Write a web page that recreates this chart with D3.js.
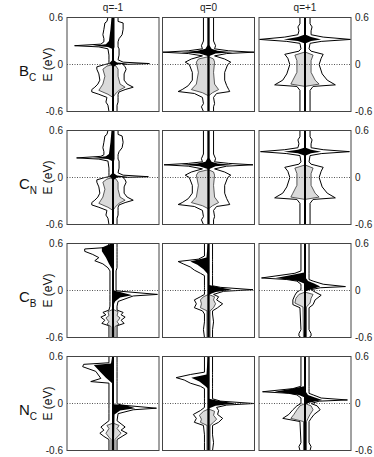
<!DOCTYPE html>
<html><head><meta charset="utf-8">
<script src="https://cdn.jsdelivr.net/npm/d3@7"></script>
<style>html,body{margin:0;padding:0;background:#fff;}svg{display:block;}</style>
</head><body>
<svg id="c" width="374" height="457"></svg>
<script>
// ---- data: energies (eV) and DOS (arb. units) as [E, spinUp, spinDown] ----
const charges = ["q=-1", "q=0", "q=+1"];
const defects = [["B","C"], ["C","N"], ["C","B"], ["N","C"]];
const energyTicks = [0.6, 0, -0.6];
const tickLabels = ["0.6", "0", "-0.6"];

// B_C
const BC_total = [
 [[0.60,5,5],[0.55,5,6],[0.53,10,8],[0.45,10,9],[0.38,9,10],[0.33,6,9],[0.29,5,9],[0.26,5,12],[0.24,5,38],[0.225,5,14],[0.20,6,5],[0.12,6,4],[0.06,5,4],[0.03,10,4],[0.012,36,4],[0.0,10,8],[-0.03,12,16],[-0.06,13,16],[-0.12,11,14],[-0.20,11,13],[-0.25,14,15],[-0.29,20,18],[-0.32,12,21],[-0.35,6,21],[-0.38,5,14],[-0.42,5,6],[-0.48,5,7],[-0.52,4,5],[-0.60,4,4]],
 [[0.60,5,5],[0.30,5,5],[0.24,7,7],[0.20,6,6],[0.175,20,20],[0.157,45,45],[0.14,18,20],[0.11,6,6],[0.07,16,17],[0.03,22,23],[0.0,19,19],[-0.10,16,16],[-0.20,16,16],[-0.27,18,20],[-0.32,20,26],[-0.345,21,30],[-0.37,8,14],[-0.42,5,6],[-0.50,6,5],[-0.54,5,7],[-0.60,5,5]],
 [[0.60,5,5],[0.52,5,5],[0.48,7,7],[0.43,6,6],[0.38,6,7],[0.35,18,20],[0.32,45,45],[0.295,16,18],[0.27,5,5],[0.20,4,4],[0.17,6,6],[0.13,18,20],[0.08,16,17],[0.0,14,15],[-0.12,17,18],[-0.20,22,22],[-0.26,30,30],[-0.28,8,8],[-0.33,5,5],[-0.60,5,5]]
];
const BC_defect = [
 [[0.60,1.5,1.5],[0.45,1.5,2.5],[0.30,1.5,4],[0.26,1.5,7],[0.24,1.5,20],[0.225,1.5,5],[0.20,1,1],[0.05,1,1],[0.025,4,3],[0.012,15,4],[0.0,4,2],[-0.03,0.8,0.8],[-0.60,0.8,0.8]],
 [[0.60,0.8,0.8],[0.25,0.8,0.8],[0.20,3,3],[0.175,9,11],[0.157,24,27],[0.14,7,9],[0.11,0.8,0.8],[-0.60,0.8,0.8]],
 [[0.60,0.8,0.8],[0.38,0.8,0.8],[0.35,6,7],[0.32,16,21],[0.30,6,7],[0.27,0.8,0.8],[-0.60,0.8,0.8]]
];
const BC_host = [
 [[0.0,0,0],[-0.02,3,6],[-0.06,5,10],[-0.15,5,8],[-0.25,7,10],[-0.29,12,12],[-0.33,6,14],[-0.38,2,5],[-0.42,0,0]],
 [[0.10,0,0],[0.07,5,10],[0.03,6,12],[-0.10,5,10],[-0.25,6,12],[-0.32,10,17],[-0.36,4,6],[-0.40,0,0]],
 [[0.16,0,0],[0.12,8,10],[0.05,6,8],[-0.10,6,8],[-0.20,10,12],[-0.25,14,14],[-0.28,0,0]]
];
// C_N
const CN_total = [
 [[0.60,5,5],[0.55,5,6],[0.53,9,8],[0.45,10,9],[0.38,9,10],[0.33,6,9],[0.29,5,9],[0.27,5,12],[0.25,5,36],[0.235,5,14],[0.21,6,5],[0.12,6,4],[0.06,5,4],[0.03,10,4],[0.01,35,4],[0.0,10,8],[-0.03,12,16],[-0.06,13,16],[-0.12,11,14],[-0.20,11,13],[-0.25,14,15],[-0.29,20,18],[-0.32,12,21],[-0.35,6,21],[-0.38,5,14],[-0.42,5,6],[-0.48,5,7],[-0.52,4,5],[-0.60,4,4]],
 [[0.60,5,5],[0.30,5,5],[0.24,7,7],[0.20,6,6],[0.18,20,20],[0.162,44,44],[0.145,18,20],[0.11,6,6],[0.07,16,17],[0.03,22,23],[0.0,19,19],[-0.10,16,16],[-0.20,16,16],[-0.27,18,20],[-0.32,20,26],[-0.345,21,30],[-0.37,8,14],[-0.42,5,6],[-0.50,6,5],[-0.54,5,7],[-0.60,5,5]],
 [[0.60,5,5],[0.52,5,5],[0.48,7,7],[0.43,6,6],[0.38,6,7],[0.355,18,20],[0.33,44,44],[0.305,16,18],[0.28,5,5],[0.20,4,4],[0.17,6,6],[0.13,18,20],[0.08,16,17],[0.0,14,15],[-0.12,17,18],[-0.20,22,22],[-0.26,30,30],[-0.28,8,8],[-0.33,5,5],[-0.60,5,5]]
];
const CN_defect = [
 [[0.60,1.5,1.5],[0.45,1.5,2.5],[0.30,1.5,4],[0.27,1.5,7],[0.25,1.5,20],[0.235,1.5,5],[0.21,1,1],[0.05,1,1],[0.025,4,3],[0.01,15,4],[0.0,4,2],[-0.03,0.8,0.8],[-0.60,0.8,0.8]],
 [[0.60,0.8,0.8],[0.25,0.8,0.8],[0.20,3,3],[0.18,9,11],[0.162,24,27],[0.145,7,9],[0.11,0.8,0.8],[-0.60,0.8,0.8]],
 [[0.60,0.8,0.8],[0.38,0.8,0.8],[0.355,6,7],[0.33,16,21],[0.31,6,7],[0.28,0.8,0.8],[-0.60,0.8,0.8]]
];
const CN_host = [
 [[0.0,0,0],[-0.02,3,6],[-0.06,5,10],[-0.15,5,8],[-0.25,7,10],[-0.29,12,12],[-0.33,6,14],[-0.38,2,5],[-0.42,0,0]],
 [[0.10,0,0],[0.07,5,10],[0.03,6,12],[-0.10,5,10],[-0.25,6,12],[-0.32,10,17],[-0.36,4,6],[-0.40,0,0]],
 [[0.16,0,0],[0.12,8,10],[0.05,6,8],[-0.10,6,8],[-0.20,10,12],[-0.25,14,14],[-0.28,0,0]]
];
// C_B
const CB_total = [
 [[0.60,4,4],[0.55,4,5],[0.53,4,28],[0.50,4,28],[0.46,4,20],[0.42,4,14],[0.38,4,18],[0.34,4,10],[0.29,4,5],[0.25,3,3],[0.0,3,3],[-0.01,8,3],[-0.05,44,3],[-0.07,20,3],[-0.14,5,3],[-0.20,4,3],[-0.25,4,4],[-0.28,10,10],[-0.31,8,7],[-0.34,12,12],[-0.38,8,8],[-0.42,11,11],[-0.45,4,4],[-0.60,4,4]],
 [[0.60,4,4],[0.44,4,4],[0.40,4,10],[0.37,4,30],[0.34,4,25],[0.30,4,18],[0.26,4,14],[0.22,4,8],[0.19,4,4],[0.06,4,4],[0.04,12,4],[0.01,44,4],[-0.01,15,4],[-0.05,5,4],[-0.08,10,8],[-0.12,8,14],[-0.17,14,12],[-0.22,9,14],[-0.26,4,6],[-0.30,4,4],[-0.40,5,4],[-0.50,4,5],[-0.60,4,4]],
 [[0.60,4,4],[0.25,4,4],[0.22,4,10],[0.16,4,43],[0.14,4,18],[0.12,8,8],[0.08,18,4],[0.05,40,4],[0.035,15,4],[0.01,6,4],[-0.02,10,8],[-0.06,16,10],[-0.12,10,12],[-0.18,8,12],[-0.22,4,5],[-0.50,4,4],[-0.55,6,6],[-0.58,6,6],[-0.60,4,4]]
];
const CB_defect = [
 [[0.60,0.8,1.5],[0.55,0.8,11],[0.50,0.8,11],[0.42,0.8,7],[0.34,0.8,4],[0.27,0.8,0.8],[0.0,0.8,0.8],[-0.02,7,0.8],[-0.06,19,0.8],[-0.09,7,0.8],[-0.14,2,0.8],[-0.18,0.8,0.8],[-0.60,0.8,0.8]],
 [[0.60,0.8,0.8],[0.42,0.8,2],[0.37,0.8,18],[0.33,0.8,11],[0.27,0.8,5],[0.21,0.8,0.8],[0.07,0.8,0.8],[0.05,7,0.8],[0.01,23,0.8],[-0.02,7,0.8],[-0.05,0.8,0.8],[-0.60,0.8,0.8]],
 [[0.60,0.8,0.8],[0.23,0.8,0.8],[0.20,0.8,12],[0.16,0.8,29],[0.12,3,7],[0.09,9,0.8],[0.05,15,0.8],[0.01,5,0.8],[-0.01,0.8,0.8],[-0.60,0.8,0.8]]
];
const CB_host = [
 [[-0.24,0,0],[-0.27,5,5],[-0.32,4,4],[-0.35,7,7],[-0.40,4,4],[-0.43,6,6],[-0.46,2,2],[-0.60,2,2]],
 [[-0.05,0,0],[-0.08,6,5],[-0.12,5,8],[-0.17,7,7],[-0.22,5,8],[-0.26,1.5,1.5],[-0.60,1.5,1.5]],
 [[-0.02,0,0],[-0.05,8,6],[-0.10,6,9],[-0.16,5,10],[-0.21,1.5,2],[-0.60,1.5,1.5]]
];
// N_C
const NC_total = [
 [[0.60,4,4],[0.52,4,4],[0.50,4,29],[0.47,4,30],[0.41,4,17],[0.32,4,12],[0.28,4,22],[0.26,4,4],[0.0,4,4],[-0.02,8,4],[-0.06,43,4],[-0.08,20,4],[-0.13,5,4],[-0.22,4,4],[-0.26,8,8],[-0.30,12,12],[-0.34,8,9],[-0.38,14,13],[-0.42,9,9],[-0.46,4,4],[-0.60,4,4]],
 [[0.60,4,4],[0.40,4,4],[0.37,4,18],[0.33,4,32],[0.30,4,24],[0.26,4,18],[0.22,4,8],[0.19,4,4],[0.06,4,4],[0.03,12,4],[0.0,45,4],[-0.02,18,4],[-0.05,8,4],[-0.09,10,8],[-0.14,9,15],[-0.19,14,12],[-0.24,10,14],[-0.28,4,5],[-0.40,4,4],[-0.50,5,4],[-0.60,4,4]],
 [[0.60,4,4],[0.22,4,4],[0.19,4,12],[0.15,4,42],[0.13,4,16],[0.11,8,8],[0.07,16,4],[0.045,42,4],[0.03,14,4],[0.0,6,4],[-0.03,12,8],[-0.08,15,12],[-0.14,9,16],[-0.19,6,22],[-0.23,4,5],[-0.50,4,4],[-0.55,6,6],[-0.60,5,5]]
];
const NC_defect = [
 [[0.60,0.8,0.8],[0.51,0.8,2],[0.49,0.8,19],[0.41,0.8,13],[0.33,0.8,7],[0.26,0.8,0.8],[-0.01,0.8,0.8],[-0.02,12,0.8],[-0.06,22,0.8],[-0.09,7,0.8],[-0.14,1.5,0.8],[-0.60,0.8,0.8]],
 [[0.60,0.8,0.8],[0.37,0.8,2],[0.33,0.8,17],[0.28,0.8,9],[0.22,0.8,3],[0.19,0.8,0.8],[0.06,0.8,0.8],[0.04,7,0.8],[0.0,27,0.8],[-0.03,7,0.8],[-0.06,0.8,0.8],[-0.60,0.8,0.8]],
 [[0.60,0.8,0.8],[0.22,0.8,0.8],[0.19,0.8,12],[0.15,0.8,30],[0.11,3,6],[0.08,9,0.8],[0.045,17,0.8],[0.01,4,0.8],[-0.01,0.8,0.8],[-0.60,0.8,0.8]]
];
const NC_host = [
 [[-0.25,0,0],[-0.28,6,6],[-0.32,4,4],[-0.38,8,7],[-0.43,4,4],[-0.46,2,2],[-0.60,2,2]],
 [[-0.07,0,0],[-0.10,6,5],[-0.15,5,9],[-0.20,8,7],[-0.24,5,8],[-0.28,1.5,1.5],[-0.60,1.5,1.5]],
 [[0.0,0,0],[-0.03,6,5],[-0.08,8,8],[-0.14,5,11],[-0.19,3,14],[-0.23,1.5,1.5],[-0.60,1.5,1.5]]
];

const rowsData = [
 {total: BC_total, defect: BC_defect, host: BC_host},
 {total: CN_total, defect: CN_defect, host: CN_host},
 {total: CB_total, defect: CB_defect, host: CB_host},
 {total: NC_total, defect: NC_defect, host: NC_host}
];

// ---- layout ----
const svg = d3.select("#c");
const font = "'Liberation Sans', Arial, Helvetica, sans-serif";
const colLeft = [67, 162.5, 259];
const panelW = 92;
const rowTop = [17.5, 130.5, 243.5, 356.5];
const panelH = 94;
const dosMax = 45.5;

const defs = svg.append("defs");

rowsData.forEach((row, ri) => {
  const y = d3.scaleLinear().domain([-0.6, 0.6]).range([rowTop[ri] + panelH, rowTop[ri]]);
  for (let ci = 0; ci < 3; ci++) {
    const x = d3.scaleLinear().domain([-dosMax, dosMax]).range([colLeft[ci], colLeft[ci] + panelW]);
    const id = `clip${ri}${ci}`;
    defs.append("clipPath").attr("id", id).append("rect")
      .attr("x", colLeft[ci]).attr("y", rowTop[ri]).attr("width", panelW).attr("height", panelH);
    const g = svg.append("g").attr("clip-path", `url(#${id})`);

    const sides = [{k: 1, s: 1}, {k: 2, s: -1}];
    const area = (k, s) => d3.area().x0(x(0)).x1(d => x(s * d[k])).y(d => y(d[0])).curve(d3.curveLinear);
    const line = (k, s) => d3.line().x(d => x(s * d[k])).y(d => y(d[0])).curve(d3.curveLinear);

    // total DOS: white fill with black outline
    sides.forEach(({k, s}) => {
      g.append("path").datum(row.total[ci]).attr("d", area(k, s)).attr("fill", "#fff");
      g.append("path").datum(row.total[ci]).attr("d", line(k, s))
        .attr("fill", "none").attr("stroke", "#000").attr("stroke-width", 1);
    });
    // host-like projected DOS: grey
    sides.forEach(({k, s}) => {
      g.append("path").datum(row.host[ci]).attr("d", area(k, s)).attr("fill", "#dadada");
      g.append("path").datum(row.host[ci]).attr("d", line(k, s))
        .attr("fill", "none").attr("stroke", "#333").attr("stroke-width", 0.8);
    });
    // Fermi level
    g.append("line").attr("x1", colLeft[ci]).attr("x2", colLeft[ci] + panelW)
      .attr("y1", y(0)).attr("y2", y(0))
      .attr("stroke", "#555").attr("stroke-width", 1).attr("stroke-dasharray", "1,1.5");
    // defect projected DOS: black
    sides.forEach(({k, s}) => {
      g.append("path").datum(row.defect[ci]).attr("d", area(k, s)).attr("fill", "#000");
    });
    // zero DOS axis
    g.append("line").attr("x1", x(0)).attr("x2", x(0))
      .attr("y1", rowTop[ri]).attr("y2", rowTop[ri] + panelH)
      .attr("stroke", "#000").attr("stroke-width", 2);

    // frame
    svg.append("rect").attr("x", colLeft[ci]).attr("y", rowTop[ri])
      .attr("width", panelW).attr("height", panelH)
      .attr("fill", "none").attr("stroke", "#444").attr("stroke-width", 1);
  }

  // tick labels left and right
  energyTicks.forEach((e, ti) => {
    svg.append("text").attr("x", colLeft[0] - 4).attr("y", y(e)).attr("dy", "0.35em")
      .attr("text-anchor", "end").attr("font-family", font).attr("font-size", 10).attr("fill", "#222")
      .text(tickLabels[ti]);
    svg.append("text").attr("x", colLeft[2] + panelW + 4).attr("y", y(e)).attr("dy", "0.35em")
      .attr("text-anchor", "start").attr("font-family", font).attr("font-size", 10).attr("fill", "#222")
      .text(tickLabels[ti]);
  });

  // row labels
  const cy = rowTop[ri] + panelH / 2;
  const t = svg.append("text").attr("x", 19).attr("y", cy + 11)
    .attr("font-family", font).attr("font-size", 15).attr("fill", "#111");
  t.append("tspan").text(defects[ri][0]);
  t.append("tspan").attr("dy", 5).attr("font-size", 10).text(defects[ri][1]);

  svg.append("text").attr("transform", `translate(52,${cy}) rotate(-90)`)
    .attr("text-anchor", "middle").attr("font-family", font).attr("font-size", 12).attr("fill", "#111")
    .text("E (eV)");
});

// column titles
charges.forEach((c, ci) => {
  svg.append("text").attr("x", colLeft[ci] + panelW / 2).attr("y", 11)
    .attr("text-anchor", "middle").attr("font-family", font).attr("font-size", 10).attr("fill", "#222")
    .text(c);
});
</script>
</body></html>
